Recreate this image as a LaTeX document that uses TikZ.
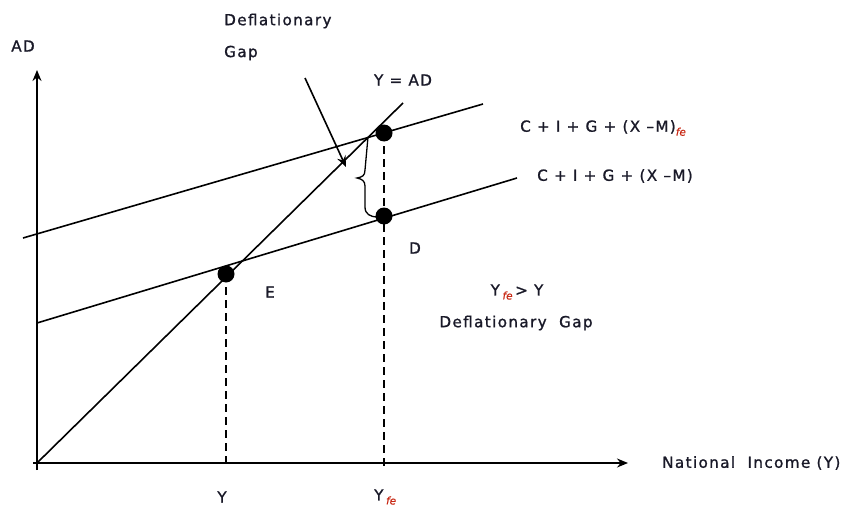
\documentclass[tikz,border=0pt]{standalone}
\usepackage{fontspec}
\setmainfont[LetterSpace=9,FakeBold=1.2]{DejaVu Sans}
\newfontfamily\fefont[FakeBold=0.5]{DejaVu Sans}
\usetikzlibrary{arrows.meta}
\definecolor{fered}{RGB}{200,40,20}
\definecolor{txt}{RGB}{25,25,40}
\newcommand{\fesub}{\raisebox{-4pt}{\textcolor{fered}{\fefont\fontsize{10.5}{10.5}\selectfont\itshape fe}}}
\begin{document}
\begin{tikzpicture}[x=1pt,y=-1pt,
  lbl/.style={font=\fontsize{15.2}{17}\selectfont, text=txt, inner sep=0pt},
  ln/.style={line width=1.6pt},
  tip/.style={-{Stealth[length=11pt,width=9pt]}},
  dot/.style={circle, fill=black, inner sep=0pt, minimum size=17pt},
  dsh/.style={line width=1.5pt, dash pattern=on 8pt off 5pt}]
\useasboundingbox (0,0) rectangle (859,511);
% axes
\coordinate (O) at (37,463);
\coordinate (ybot) at (37,470);
\coordinate (ytop) at (37,70);
\coordinate (xbeg) at (33,463);
\coordinate (xend) at (628,463);
\draw[ln,tip] (ybot) -- (ytop);
\draw[ln,tip] (xbeg) -- (xend);
% 45 degree line
\coordinate (l45) at (403,103);
\draw[ln] (O) -- (l45);
% AD lines
\coordinate (u1) at (23,238);
\coordinate (u2) at (483,104);
\draw[ln] (u1) -- (u2);
\coordinate (w1) at (37,323);
\coordinate (w2) at (517,178);
\draw[ln] (w1) -- (w2);
% dots positions
\coordinate (Ep) at (226,274);
\coordinate (Tp) at (384,133);
\coordinate (Dp) at (384,216);
\coordinate (Ebase) at (226,463);
\coordinate (Tbase) at (384,470);
\draw[dsh] (Ep) -- (Ebase);
\draw[dsh] (Tp) -- (Tbase);
% brace
\coordinate (b1) at (368,137);
\coordinate (b2) at (378,217);
\draw[line width=1.3pt] (b1) -- (365,170) .. controls (365,176) and (362,177) .. (357,178)
  .. controls (362,179) and (365,181) .. (365,186) -- (365,207)
  .. controls (365,214) and (370,217) .. (b2);
\node[dot] (E) at (Ep) {};
\node[dot] (T) at (Tp) {};
\node[dot] (D) at (Dp) {};
% arrow
\coordinate (a1) at (305,78);
\coordinate (a2) at (346,167);
\draw[ln,tip] (a1) -- (a2);
% labels
\node[lbl] (AD) at (23,46) {AD};
\node[lbl,anchor=west] (defl) at (224,21) {Deflationary};
\node[lbl,anchor=west] (gap) at (224,53) {Gap};
\node[lbl] (yad) at (403,80) {Y = AD};
\node[lbl,anchor=west] (c1) at (520,128) {C + I + G + (X –M)\fesub};
\node[lbl,anchor=west] (c2) at (537,176) {C + I + G + (X –M)};
\node[lbl] (Dl) at (415,248) {D};
\node[lbl] (El) at (270,292) {E};
\node[lbl] (cmp) at (517,292) {Y\,\fesub\,> Y};
\node[lbl] (dg) at (516,323) {Deflationary\ \ Gap};
\node[lbl] (Y1) at (222,497) {Y};
\node[lbl,anchor=west] (Y2) at (374,497) {Y\,\fesub};
\node[lbl,anchor=west] (ni) at (662,463) {National\ \ Income (Y)};
\end{tikzpicture}
\end{document}
